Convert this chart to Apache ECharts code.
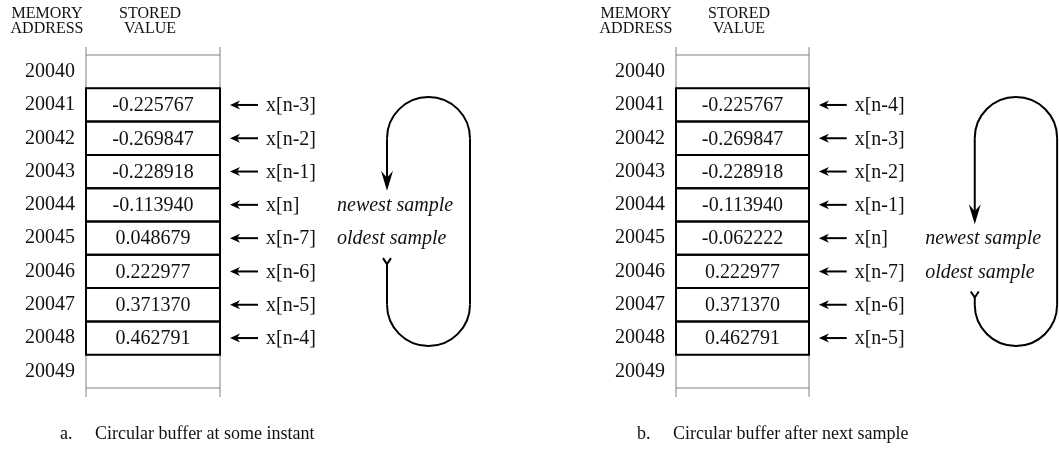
<!DOCTYPE html>
<html>
<head>
<meta charset="utf-8">
<script src="https://cdn.jsdelivr.net/npm/echarts@6/dist/echarts.min.js"></script>
<style>
html, body { margin: 0; padding: 0; background: #fff; }
#main { width: 1059px; height: 452px; }
</style>
</head>
<body>
<div id="main"></div>
<script>
// memory map data, one entry per address
var addresses = ['20040', '20041', '20042', '20043', '20044', '20045', '20046', '20047', '20048', '20049'];
var valuesA = [null, -0.225767, -0.269847, -0.228918, -0.113940, 0.048679, 0.222977, 0.371370, 0.462791, null];
var valuesB = [null, -0.225767, -0.269847, -0.228918, -0.113940, -0.062222, 0.222977, 0.371370, 0.462791, null];
var pointersA = [null, 'x[n-3]', 'x[n-2]', 'x[n-1]', 'x[n]', 'x[n-7]', 'x[n-6]', 'x[n-5]', 'x[n-4]', null];
var pointersB = [null, 'x[n-4]', 'x[n-3]', 'x[n-2]', 'x[n-1]', 'x[n]', 'x[n-7]', 'x[n-6]', 'x[n-5]', null];
var newestA = 4;
var newestB = 5;
var captionA = 'a.     Circular buffer at some instant';
var captionB = 'b.     Circular buffer after next sample';

var SERIF = '"Liberation Serif", "DejaVu Serif", serif';
var BOX_W = 134;        // x units = pixels from the box's left edge
var ARROW_TIP = 144, ARROW_END = 172, LABEL_X = 180;
var LOOP_L = 301, LOOP_R = 384, NOTE_X = 251;

function cellRenderer(values, pointers) {
    return function (params, api) {
        var i = params.dataIndex;
        var p0 = api.coord([0, i]);
        var p1 = api.coord([BOX_W, i]);
        var h = api.size([0, 1])[1];
        var top = p0[1] - h / 2;
        var filled = values[i] !== null;
        var children = [{
            type: 'rect',
            z2: filled ? 2 : 1,
            shape: { x: p0[0], y: top, width: p1[0] - p0[0], height: h },
            style: { fill: 'none', stroke: filled ? '#000' : '#808080', lineWidth: filled ? 2 : 1 }
        }];
        if (i === 0 || i === values.length - 1) {
            var y0 = i === 0 ? top - 8 : top + h;
            var y1 = i === 0 ? top : top + h + 9;
            [p0[0], p1[0]].forEach(function (x) {
                children.push({
                    type: 'line', z2: 1,
                    shape: { x1: x, y1: y0, x2: x, y2: y1 },
                    style: { stroke: '#808080', lineWidth: 1 }
                });
            });
        }
        if (filled) {
            children.push({
                type: 'text', z2: 3,
                x: (p0[0] + p1[0]) / 2, y: p0[1] + 1,
                style: { text: values[i].toFixed(6), fill: '#111', font: '20px ' + SERIF,
                         align: 'center', verticalAlign: 'middle' }
            });
        }
        if (pointers[i]) {
            var tx = api.coord([ARROW_TIP, i])[0];
            var ex = api.coord([ARROW_END, i])[0];
            var lx = api.coord([LABEL_X, i])[0];
            var y = p0[1];
            children.push({
                type: 'line', z2: 3,
                shape: { x1: tx + 6, y1: y, x2: ex, y2: y },
                style: { stroke: '#000', lineWidth: 2 }
            });
            children.push({
                type: 'polygon', z2: 3,
                shape: { points: [[tx, y], [tx + 10, y - 4.5], [tx + 7, y], [tx + 10, y + 4.5]] },
                style: { fill: '#000' }
            });
            children.push({
                type: 'text', z2: 3,
                x: lx, y: y + 1,
                style: { text: pointers[i], fill: '#111', font: '20px ' + SERIF,
                         align: 'left', verticalAlign: 'middle' }
            });
        }
        return { type: 'group', children: children };
    };
}

function loopRenderer(params, api) {
    var newest = api.value(1);
    var c0 = api.coord([0, 0])[1];
    var h = api.size([0, 1])[1];
    function yOf(r) { return c0 + r * h; }
    var lx = api.coord([LOOP_L, 0])[0];
    var rx = api.coord([LOOP_R, 0])[0];
    var nx = api.coord([NOTE_X, 0])[0];
    var R = (rx - lx) / 2;
    var cx = lx + R;
    var yTop = yOf(0.76), yBot = yOf(8.24);
    var tip = yOf(newest - 0.42);
    var tail = yOf(newest + 1.6);
    var line = { stroke: '#000', lineWidth: 2, fill: 'none' };
    return {
        type: 'group',
        children: [
            { type: 'arc', shape: { cx: cx, cy: yTop + R, r: R, startAngle: Math.PI, endAngle: 2 * Math.PI, clockwise: true }, style: line },
            { type: 'arc', shape: { cx: cx, cy: yBot - R, r: R, startAngle: 0, endAngle: Math.PI, clockwise: true }, style: line },
            { type: 'line', shape: { x1: rx, y1: yTop + R, x2: rx, y2: yBot - R }, style: line },
            { type: 'line', shape: { x1: lx, y1: yTop + R, x2: lx, y2: tip - 12 }, style: line },
            { type: 'polygon', shape: { points: [[lx, tip], [lx - 6, tip - 20], [lx, tip - 13], [lx + 6, tip - 20]] }, style: { fill: '#000' } },
            { type: 'polyline', shape: { points: [[lx - 4, tail], [lx, tail + 6], [lx + 4, tail]] }, style: { stroke: '#000', lineWidth: 2, fill: 'none' } },
            { type: 'line', shape: { x1: lx, y1: tail + 6, x2: lx, y2: yBot - R }, style: line },
            { type: 'text', x: nx, y: yOf(newest) + 1, style: { text: 'newest sample', fill: '#111', font: 'italic 20px ' + SERIF, align: 'left', verticalAlign: 'middle' } },
            { type: 'text', x: nx, y: yOf(newest + 1) + 1, style: { text: 'oldest sample', fill: '#111', font: 'italic 20px ' + SERIF, align: 'left', verticalAlign: 'middle' } }
        ]
    };
}

function rows() {
    return addresses.map(function (a, i) { return [0, i]; });
}

function yAxisFor(gridIndex) {
    return {
        type: 'category', gridIndex: gridIndex, data: addresses, inverse: true,
        axisLine: { show: false }, axisTick: { show: false }, splitLine: { show: false },
        axisLabel: { margin: 11, color: '#111', fontSize: 20, fontFamily: SERIF }
    };
}

var headerStyle = { fontSize: 16, lineHeight: 15, fontWeight: 'normal', color: '#111', fontFamily: SERIF };
var captionStyle = { fontSize: 18, fontWeight: 'normal', color: '#111', fontFamily: SERIF };

var option = {
    animation: false,
    backgroundColor: '#fff',
    title: [
        { text: 'MEMORY\nADDRESS', left: 47, top: 6, padding: 0, textAlign: 'center', textStyle: headerStyle },
        { text: 'STORED\nVALUE', left: 150, top: 6, padding: 0, textAlign: 'center', textStyle: headerStyle },
        { text: 'MEMORY\nADDRESS', left: 636, top: 6, padding: 0, textAlign: 'center', textStyle: headerStyle },
        { text: 'STORED\nVALUE', left: 739, top: 6, padding: 0, textAlign: 'center', textStyle: headerStyle },
        { text: captionA, left: 60, top: 425, padding: 0, textStyle: captionStyle },
        { text: captionB, left: 637, top: 425, padding: 0, textStyle: captionStyle }
    ],
    grid: [
        { left: 86, top: 55, width: 134, height: 333, outerBoundsMode: 'none' },
        { left: 676, top: 55, width: 133, height: 333, outerBoundsMode: 'none' }
    ],
    xAxis: [
        { type: 'value', gridIndex: 0, min: 0, max: BOX_W, show: false },
        { type: 'value', gridIndex: 1, min: 0, max: BOX_W, show: false }
    ],
    yAxis: [yAxisFor(0), yAxisFor(1)],
    series: [
        { type: 'custom', xAxisIndex: 0, yAxisIndex: 0, data: rows(), renderItem: cellRenderer(valuesA, pointersA) },
        { type: 'custom', xAxisIndex: 1, yAxisIndex: 1, data: rows(), renderItem: cellRenderer(valuesB, pointersB) },
        { type: 'custom', xAxisIndex: 0, yAxisIndex: 0, data: [[0, newestA]], renderItem: loopRenderer },
        { type: 'custom', xAxisIndex: 1, yAxisIndex: 1, data: [[0, newestB]], renderItem: loopRenderer }
    ]
};

var myChart = echarts.init(document.getElementById('main'));
myChart.setOption(option);
</script>
</body>
</html>
